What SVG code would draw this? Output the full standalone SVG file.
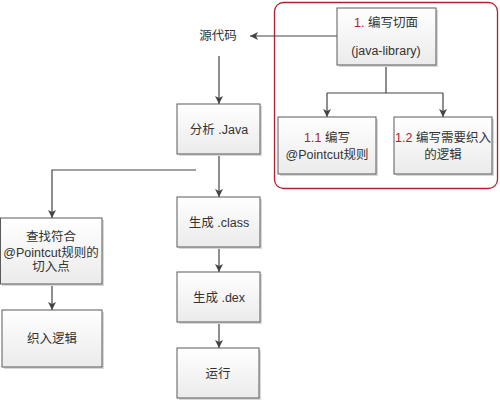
<svg xmlns="http://www.w3.org/2000/svg" width="500" height="401" viewBox="0 0 500 401">
<style>
.box{fill:url(#g);stroke:#5a5a5a;stroke-width:1}
.sh{fill:#d8d8d8}
.t{font-family:"Liberation Sans","Noto Sans CJK SC",sans-serif;font-size:12.5px;fill:#333;text-anchor:middle}
.r{fill:#b3202c}
.c{fill:none;stroke:#444;stroke-width:1.2}
</style>
<defs>
<linearGradient id="g" x1="0" y1="0" x2="0" y2="1">
<stop offset="0" stop-color="#ffffff"/>
<stop offset="1" stop-color="#ebebeb"/>
</linearGradient>
<marker id="a" viewBox="0 0 10 10" refX="10" refY="5" markerWidth="8" markerHeight="8" markerUnits="userSpaceOnUse" orient="auto">
<path d="M0,0 L10,5 L0,10 L2.5,5 Z" fill="#444"/>
</marker>
</defs>
<rect x="274.5" y="2.5" width="223" height="186" rx="9" fill="none" stroke="#b3202c" stroke-width="1.3"/>
<g id="connectors">
<path class="c" d="M337,36 H250" marker-end="url(#a)"/>
<path class="c" d="M219,56 V104" marker-end="url(#a)"/>
<path class="c" d="M386,65 V93 M327,93 H443"/>
<path class="c" d="M327,93 V117" marker-end="url(#a)"/>
<path class="c" d="M443,93 V117" marker-end="url(#a)"/>
<path class="c" d="M219,154 V197" marker-end="url(#a)"/>
<path class="c" d="M196,170 H52 V218" marker-end="url(#a)"/>
<path class="c" d="M52,284 V310" marker-end="url(#a)"/>
<path class="c" d="M219,247 V272" marker-end="url(#a)"/>
<path class="c" d="M219,322 V348" marker-end="url(#a)"/>
</g>
<g id="n1">
<rect class="sh" x="339" y="10" width="99" height="57"/>
<rect class="box" x="337" y="8" width="99" height="57"/>
<text class="t" x="386" y="27"><tspan class="r">1.</tspan> 编写切面</text>
<text class="t" x="386" y="55">(java-library)</text>
</g>
<g id="n11">
<rect class="sh" x="280" y="119" width="98" height="57"/>
<rect class="box" x="278" y="117" width="98" height="57"/>
<text class="t" x="327" y="142"><tspan class="r">1.1</tspan> 编写</text>
<text class="t" x="327" y="159">@Pointcut规则</text>
</g>
<g id="n12">
<rect class="sh" x="396" y="119" width="98" height="57"/>
<rect class="box" x="394" y="117" width="98" height="57"/>
<text class="t" x="443" y="142"><tspan class="r">1.2</tspan> 编写需要织入</text>
<text class="t" x="443" y="159">的逻辑</text>
</g>
<g id="src">
<text class="t" x="218" y="40">源代码</text>
</g>
<g id="analyze">
<rect class="sh" x="179" y="106" width="83" height="50"/>
<rect class="box" x="177" y="104" width="83" height="50"/>
<text class="t" x="219" y="134">分析 .Java</text>
</g>
<g id="class">
<rect class="sh" x="179" y="199" width="83" height="50"/>
<rect class="box" x="177" y="197" width="83" height="50"/>
<text class="t" x="219" y="227">生成 .class</text>
</g>
<g id="dex">
<rect class="sh" x="179" y="274" width="83" height="50"/>
<rect class="box" x="177" y="272" width="83" height="50"/>
<text class="t" x="219" y="302">生成 .dex</text>
</g>
<g id="run">
<rect class="sh" x="179" y="350" width="82" height="50"/>
<rect class="box" x="177" y="348" width="82" height="50"/>
<text class="t" x="218" y="378">运行</text>
</g>
<g id="find">
<rect class="sh" x="2" y="220" width="102" height="66"/>
<rect class="box" x="0.5" y="218" width="101.5" height="66"/>
<text class="t" x="51" y="241">查找符合</text>
<text class="t" x="51" y="257">@Pointcut规则的</text>
<text class="t" x="51" y="271">切入点</text>
</g>
<g id="weave">
<rect class="sh" x="4" y="312" width="100" height="57"/>
<rect class="box" x="2" y="310" width="100" height="57"/>
<text class="t" x="52" y="343">织入逻辑</text>
</g>
</svg>
